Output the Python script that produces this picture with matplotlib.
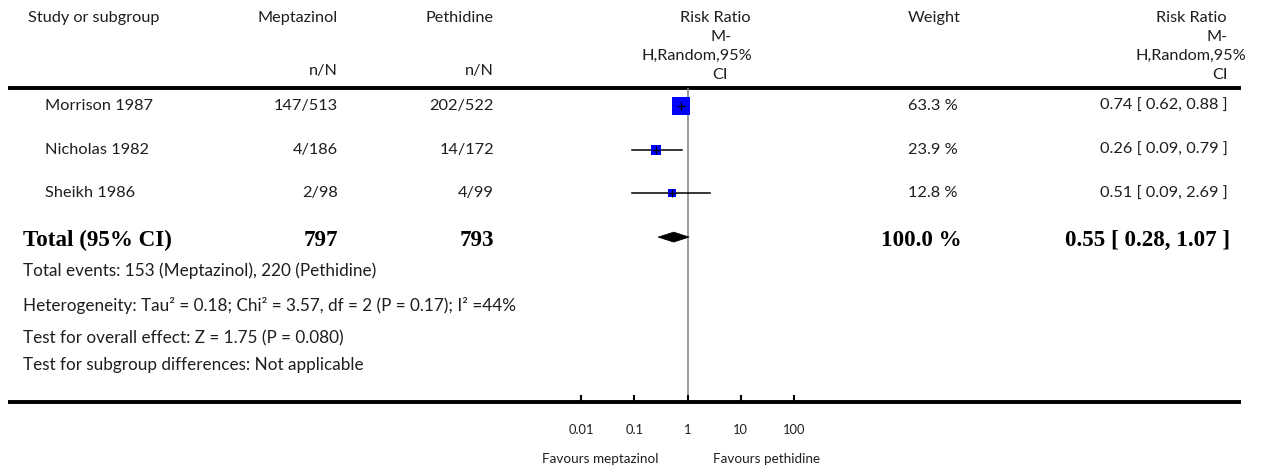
import matplotlib
matplotlib.use("Agg")
import matplotlib.pyplot as plt
from matplotlib.patches import Polygon
import numpy as np

# ---- data -------------------------------------------------------------
studies = ["Morrison 1987", "Nicholas 1982", "Sheikh 1986"]
mep_events = ["147/513", "4/186", "2/98"]
peth_events = ["202/522", "14/172", "4/99"]
weights = [63.3, 23.9, 12.8]
rr = [0.74, 0.26, 0.51]
rr_lo = [0.62, 0.09, 0.09]
rr_hi = [0.88, 0.79, 2.69]

total_mep = 797
total_peth = 793
total_weight = 100.0
total_rr, total_lo, total_hi = 0.55, 0.28, 1.07

footer_lines = [
    "Total events: 153 (Meptazinol), 220 (Pethidine)",
    "Heterogeneity: Tau\u00b2 = 0.18; Chi\u00b2 = 3.57, df = 2 (P = 0.17); I\u00b2 =44%",
    "Test for overall effect: Z = 1.75 (P = 0.080)",
    "Test for subgroup differences: Not applicable",
]
tick_values = [0.01, 0.1, 1, 10, 100]
tick_labels = ["0.01", "0.1", "1", "10", "100"]
favours_left = "Favours meptazinol"
favours_right = "Favours pethidine"

# ---- figure setup -----------------------------------------------------
W, H = 1270, 473
fig = plt.figure(figsize=(W / 100, H / 100), dpi=100)
fig.patch.set_facecolor("white")
renderer = fig.canvas.get_renderer()

SANS = ["Lato", "DejaVu Sans"]
SERIF = ["Liberation Serif", "DejaVu Serif"]
TXT = "#1e1e1e"


def fit_size(sample, width_px, family, weight="normal"):
    """Font size (pt) at which `sample` spans `width_px` pixels."""
    probe = fig.text(0, 0, sample, fontsize=10, family=family,
                     fontweight=weight)
    w = probe.get_window_extent(renderer).width
    probe.remove()
    return 10 * width_px / w


FS_HEAD = fit_size("Meptazinol", 80, SANS)
FS_ROW = fit_size("Morrison 1987", 108, SANS)
FS_FOOT = fit_size(footer_lines[1], 490, SANS)
FS_BOLD = fit_size("100.0 %", 80, SERIF, "bold")
FS_FAV = fit_size(favours_left, 116, SANS)
FS_TICK = FS_FAV * 0.95

# canvas axes in pixel units (y downwards)
ax = fig.add_axes([0, 0, 1, 1])
ax.set_xlim(0, W)
ax.set_ylim(H, 0)
ax.axis("off")


def t(x, y, s, ha="left", size=FS_HEAD, **kw):
    kw.setdefault("family", SANS)
    kw.setdefault("color", TXT)
    ax.text(x, y, s, ha=ha, va="center", fontsize=size, **kw)


# column anchors
X_STUDY = 28
X_STUDY_ROW = 45
X_MEP = 338
X_PETH = 494
X_WEIGHT = 958
X_RR = 1228

LINE_L, LINE_R = 8, 1241
Y_TOP, Y_BOT = 88, 402

# header
t(X_STUDY, 18, "Study or subgroup")
t(X_MEP, 18, "Meptazinol", ha="right")
t(X_PETH, 18, "Pethidine", ha="right")
t(X_MEP, 71, "n/N", ha="right")
t(X_PETH, 71, "n/N", ha="right")
for (xr, yy, s) in [(750, 18, "Risk Ratio"), (732, 37, "M-"),
                    (752, 56, "H,Random,95%"), (728, 75, "CI")]:
    t(xr, yy, s, ha="right")
t(X_WEIGHT + 3, 18, "Weight", ha="right")
for (xr, yy, s) in [(1227, 18, "Risk Ratio"), (1228, 37, "M-"),
                    (1246, 56, "H,Random,95%"), (1228, 75, "CI")]:
    t(xr, yy, s, ha="right")

# horizontal rules
ax.plot([LINE_L, LINE_R], [Y_TOP, Y_TOP], color="black", lw=2.8,
        solid_capstyle="butt")
ax.plot([LINE_L, LINE_R], [Y_BOT, Y_BOT], color="black", lw=2.8,
        solid_capstyle="butt")

# row positions
ROW0, ROWSTEP = 106, 43.7
row_y = [ROW0 + i * ROWSTEP for i in range(len(studies) + 1)]

for i, name in enumerate(studies):
    y = row_y[i]
    t(X_STUDY_ROW, y, name, size=FS_ROW)
    t(X_MEP, y, mep_events[i], ha="right", size=FS_ROW)
    t(X_PETH, y, peth_events[i], ha="right", size=FS_ROW)
    t(X_WEIGHT, y, f"{weights[i]:.1f} %", ha="right", size=FS_ROW)
    t(X_RR, y, f"{rr[i]:.2f} [ {rr_lo[i]:.2f}, {rr_hi[i]:.2f} ]",
      ha="right", size=FS_ROW)

# total row
yt = row_y[-1] + 3
bold = dict(family=SERIF, fontweight="bold", color="black")
t(X_STUDY - 5, yt, "Total (95% CI)", size=FS_BOLD, **bold)
t(X_MEP, yt, f"{total_mep}", ha="right", size=FS_BOLD, **bold)
t(X_PETH, yt, f"{total_peth}", ha="right", size=FS_BOLD, **bold)
t(X_WEIGHT + 4, yt, f"{total_weight:.1f} %", ha="right", size=FS_BOLD, **bold)
t(X_RR + 2, yt, f"{total_rr:.2f} [ {total_lo:.2f}, {total_hi:.2f} ]",
  ha="right", size=FS_BOLD, **bold)

# footer notes
for yy, s in zip([271, 305, 338, 365], footer_lines):
    t(X_STUDY - 5, yy, s, size=FS_FOOT)

# ---- forest panel (log scale) -----------------------------------------
PX_LO, PX_HI = 581, 794
fax = fig.add_axes([PX_LO / W, 1 - Y_BOT / H, (PX_HI - PX_LO) / W,
                    (Y_BOT - Y_TOP) / H])
fax.set_xscale("log")
fax.set_xlim(tick_values[0], tick_values[-1])
fax.set_ylim(Y_BOT, Y_TOP)
fax.patch.set_alpha(0)
for sp in fax.spines.values():
    sp.set_visible(False)
fax.set_yticks([])
fax.set_xticks(tick_values)
fax.set_xticklabels(tick_labels)
fax.xaxis.set_minor_locator(matplotlib.ticker.NullLocator())
fax.tick_params(axis="x", direction="in", length=5, width=1.5,
                color="black", pad=16, labelsize=FS_TICK, labelcolor=TXT)
for lab in fax.get_xticklabels():
    lab.set_family(SANS)

fax.axvline(1, color="#808080", lw=1.1, zorder=1)

for i in range(len(studies)):
    y = row_y[i]
    fax.plot([rr_lo[i], rr_hi[i]], [y, y], color="black", lw=1.1, zorder=2)
    side_px = 2.14 * np.sqrt(weights[i])
    fax.plot([rr[i]], [y], marker="s", markersize=side_px * 0.72,
             color="#0000ff", markeredgewidth=0, zorder=3)
    fax.plot([rr[i]], [y], marker="+", markersize=5.5, color="black",
             markeredgewidth=0.9, zorder=4)

yd = row_y[-1]
diamond = Polygon([(total_lo, yd), (total_rr, yd - 5), (total_hi, yd),
                   (total_rr, yd + 5)], closed=True, facecolor="black",
                  edgecolor="black", lw=0.5, zorder=3)
fax.add_patch(diamond)

# favours labels
t(659, 459, favours_left, ha="right", size=FS_FAV)
t(713, 459, favours_right, ha="left", size=FS_FAV)

fig.savefig("out.png", dpi=100, facecolor="white")
